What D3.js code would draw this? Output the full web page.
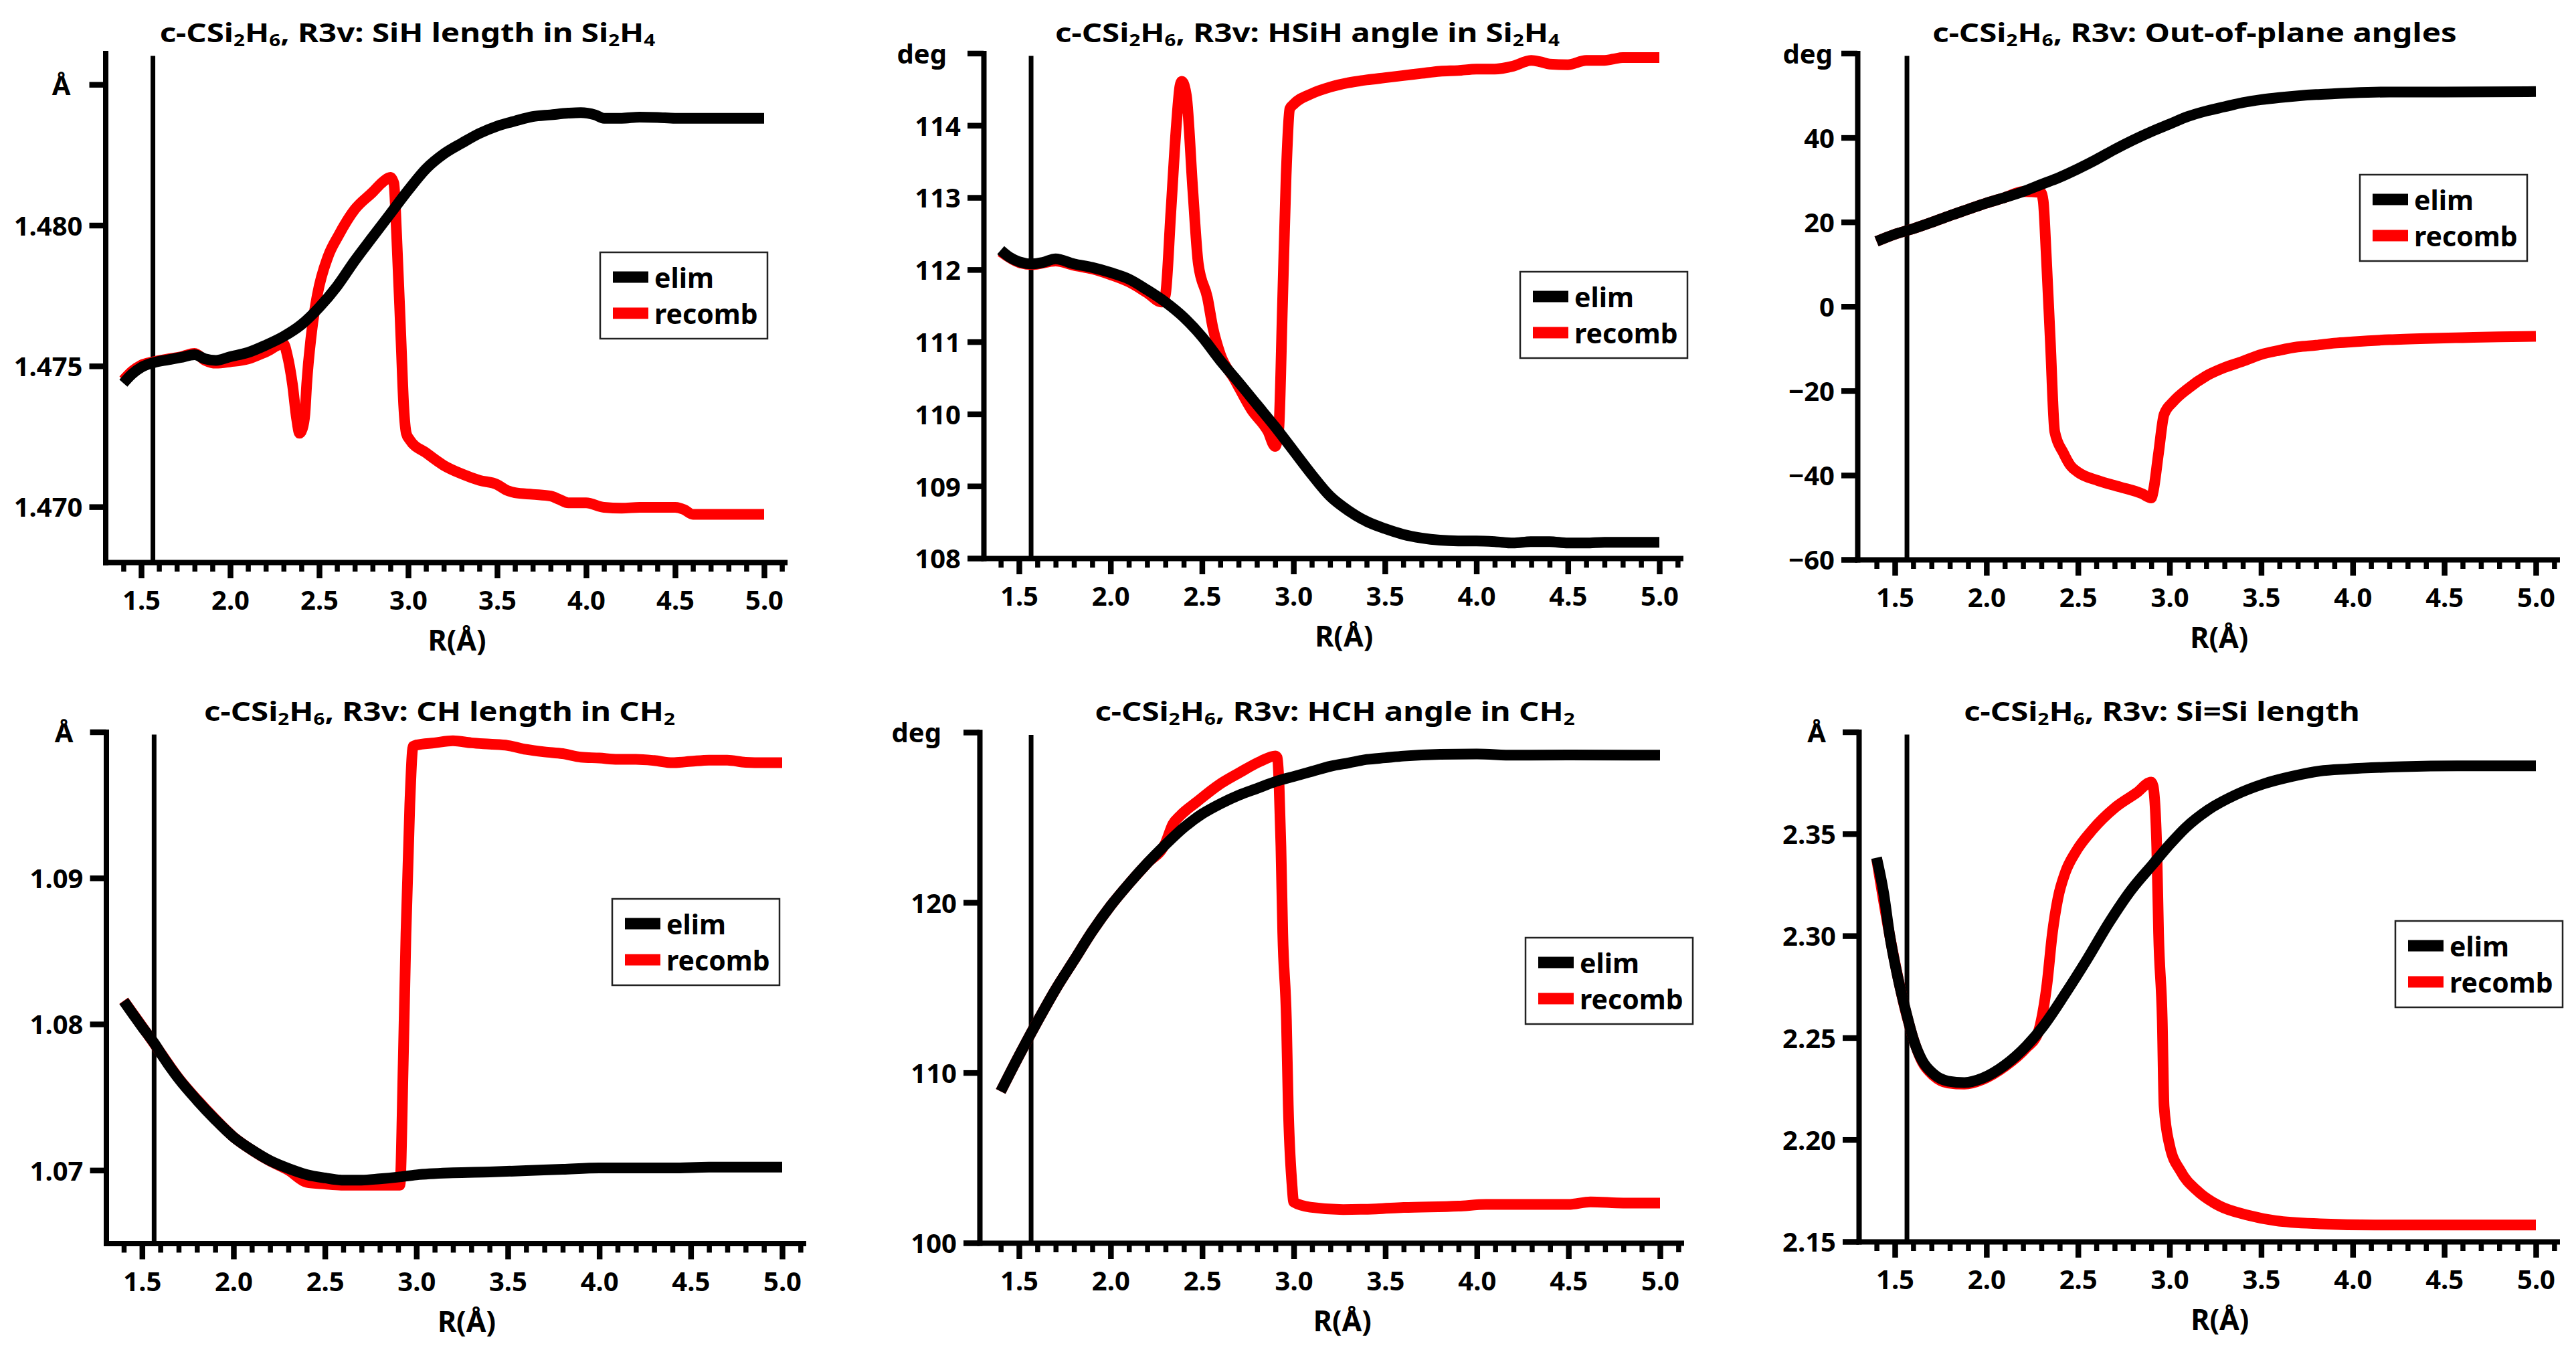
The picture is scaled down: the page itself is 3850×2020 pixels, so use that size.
<!DOCTYPE html>
<html>
<head>
<meta charset="utf-8">
<script src="https://cdn.jsdelivr.net/npm/d3@7"></script>
<style>
  html, body { margin: 0; padding: 0; background: #fff; }
  svg { display: block; font-family: 'Noto Sans', sans-serif; font-weight: 700; }
</style>
</head>
<body>
<div id="chart"></div>
<script>
// series names and shared x ticks
const seriesNames = ['elim', 'recomb'];
const xMajorTicks = [1.5, 2.0, 2.5, 3.0, 3.5, 4.0, 4.5, 5.0];
const refR = 1.566; // vertical marker
const xEnd = 5.115;  // right end of x axis

// SiH length in Si2H4
const sihElimR = [1.40,1.45,1.50,1.57,1.65,1.72,1.80,1.86,1.92,2.00,2.10,2.20,2.30,2.40,2.50,2.60,2.70,2.80,2.90,3.00,3.10,3.20,3.30,3.40,3.50,3.60,3.70,3.80,3.90,3.97,4.05,4.10,4.20,4.30,4.40,4.50,4.60,4.80,5.00];
const sihElim = [1.47439,1.47472,1.47495,1.47512,1.47522,1.47530,1.47540,1.47525,1.47520,1.47533,1.47548,1.47574,1.47605,1.47647,1.47708,1.47783,1.47874,1.47958,1.48041,1.48124,1.48200,1.48253,1.48291,1.48326,1.48352,1.48370,1.48386,1.48392,1.48398,1.48400,1.48392,1.48380,1.48380,1.48384,1.48383,1.48380,1.48380,1.48380,1.48380];
const sihRecombR = [1.40,1.45,1.50,1.57,1.65,1.72,1.80,1.86,1.92,2.00,2.10,2.20,2.30,2.32,2.35,2.373,2.39,2.405,2.42,2.43,2.46,2.49,2.55,2.61,2.70,2.80,2.86,2.90,2.92,2.935,2.96,2.975,2.99,3.01,3.10,3.20,3.30,3.40,3.50,3.55,3.60,3.70,3.80,3.85,3.90,4.00,4.10,4.20,4.30,4.40,4.50,4.55,4.60,4.80,5.00];
const sihRecomb = [1.47450,1.47482,1.47503,1.47515,1.47525,1.47532,1.47545,1.47520,1.47510,1.47515,1.47525,1.47550,1.47579,1.47541,1.47435,1.47314,1.47261,1.47276,1.47330,1.47435,1.47632,1.47753,1.47889,1.47965,1.48056,1.48117,1.48155,1.48170,1.48148,1.47970,1.47590,1.47360,1.47260,1.47237,1.47192,1.47147,1.47117,1.47094,1.47079,1.47060,1.47050,1.47044,1.47038,1.47026,1.47014,1.47014,1.46998,1.46995,1.46998,1.46998,1.46998,1.46990,1.46973,1.46973,1.46973];
const sihTicks = [1.470, 1.475, 1.480, 1.485];

// HSiH angle in Si2H4
const hsihElimR = [1.40,1.45,1.50,1.57,1.63,1.70,1.80,1.90,2.00,2.10,2.20,2.30,2.40,2.50,2.60,2.70,2.80,2.90,3.00,3.10,3.20,3.30,3.40,3.50,3.60,3.70,3.80,3.90,4.00,4.10,4.20,4.30,4.40,4.50,4.60,4.70,4.80,5.00];
const hsihElim = [112.27,112.17,112.11,112.08,112.10,112.15,112.08,112.03,111.96,111.87,111.72,111.55,111.34,111.07,110.74,110.44,110.13,109.82,109.49,109.16,108.86,108.66,108.51,108.41,108.33,108.28,108.25,108.24,108.24,108.23,108.21,108.23,108.23,108.21,108.21,108.22,108.22,108.22];
const hsihRecombR = [1.40,1.50,1.57,1.70,1.80,1.90,2.00,2.10,2.20,2.28,2.30,2.33,2.36,2.38,2.39,2.415,2.45,2.48,2.53,2.56,2.60,2.68,2.77,2.86,2.90,2.92,2.94,2.96,2.98,3.00,3.10,3.20,3.30,3.40,3.50,3.60,3.70,3.80,3.90,4.00,4.10,4.20,4.30,4.35,4.40,4.50,4.60,4.70,4.75,4.80,5.00];
const hsihRecomb = [112.25,112.10,112.07,112.12,112.06,112.01,111.93,111.83,111.68,111.55,111.65,112.80,114.00,114.55,114.61,114.41,113.10,112.08,111.61,111.19,110.83,110.47,110.06,109.76,109.55,109.80,111.50,113.30,114.23,114.29,114.44,114.53,114.59,114.63,114.66,114.69,114.72,114.75,114.76,114.78,114.78,114.82,114.90,114.88,114.85,114.84,114.90,114.90,114.92,114.94,114.94];
const hsihTicks = [108, 109, 110, 111, 112, 113, 114, 115];

// Out-of-plane angles
const oopElimR = [1.40,1.50,1.60,1.70,1.80,1.90,2.00,2.10,2.20,2.30,2.40,2.50,2.60,2.70,2.80,2.90,3.00,3.10,3.20,3.30,3.40,3.50,3.60,3.70,3.80,3.90,4.00,4.20,4.50,5.00];
const oopElim = [15.4,17.1,18.4,19.9,21.5,23.0,24.5,25.8,27.2,28.9,30.6,32.6,34.8,37.2,39.4,41.4,43.2,45.0,46.3,47.3,48.3,49.0,49.5,49.9,50.2,50.4,50.6,50.8,50.8,50.9];
const oopRecombR = [1.40,1.50,1.60,1.70,1.80,1.90,2.00,2.10,2.20,2.297,2.31,2.327,2.349,2.373,2.42,2.46,2.50,2.61,2.73,2.85,2.90,2.91,2.94,2.97,3.02,3.10,3.20,3.30,3.40,3.50,3.60,3.70,3.80,3.90,4.00,4.20,4.40,4.60,4.80,5.00];
const oopRecomb = [15.4,17.1,18.4,19.9,21.5,23.0,24.5,25.8,27.2,27.0,25.0,11.8,-8.4,-29.7,-34.7,-37.8,-39.3,-41.3,-42.8,-44.4,-45.4,-44.0,-34.7,-25.6,-22.6,-19.5,-16.5,-14.5,-13.0,-11.4,-10.4,-9.6,-9.2,-8.7,-8.4,-7.9,-7.6,-7.4,-7.2,-7.1];
const oopTicks = [-60, -40, -20, 0, 20, 40, 60];

// CH length in CH2
const chElimR = [1.40,1.50,1.57,1.60,1.70,1.80,1.90,2.00,2.10,2.20,2.30,2.40,2.50,2.60,2.70,2.80,2.90,3.00,3.20,3.40,3.60,3.80,4.00,4.20,4.40,4.60,5.00];
const chElim = [1.08158,1.07981,1.07863,1.07804,1.07626,1.07479,1.07346,1.07227,1.07139,1.07065,1.07012,1.06970,1.06947,1.06932,1.06932,1.06941,1.06953,1.06968,1.06982,1.06988,1.06997,1.07006,1.07015,1.07015,1.07015,1.07021,1.07021];
const chRecombR = [1.40,1.50,1.60,1.70,1.80,1.90,2.00,2.10,2.20,2.30,2.40,2.50,2.60,2.70,2.80,2.91,2.928,2.943,2.964,2.982,3.00,3.10,3.20,3.30,3.40,3.50,3.60,3.70,3.80,3.90,4.00,4.10,4.20,4.30,4.40,4.50,4.60,4.70,4.80,4.90,5.00];
const chRecomb = [1.08160,1.07985,1.07806,1.07630,1.07484,1.07350,1.07228,1.07138,1.07062,1.07000,1.06917,1.06905,1.06897,1.06897,1.06897,1.06897,1.07730,1.08616,1.09502,1.09901,1.09910,1.09925,1.09939,1.09925,1.09916,1.09907,1.09880,1.09863,1.09851,1.09827,1.09821,1.09812,1.09812,1.09804,1.09789,1.09798,1.09807,1.09807,1.09792,1.09789,1.09789];
const chTicks = [1.07, 1.08, 1.09, 1.10];

// HCH angle in CH2
const hchElimR = [1.40,1.50,1.60,1.70,1.80,1.90,2.00,2.10,2.20,2.30,2.40,2.50,2.60,2.70,2.80,2.90,3.00,3.10,3.20,3.30,3.40,3.50,3.60,3.80,4.00,4.20,4.50,5.00];
const hchElim = [108.9,111.0,113.0,114.9,116.6,118.3,119.8,121.1,122.3,123.4,124.4,125.2,125.8,126.3,126.7,127.1,127.4,127.7,128.0,128.2,128.4,128.5,128.6,128.7,128.72,128.65,128.66,128.65];
const hchRecombR = [1.40,1.50,1.60,1.70,1.80,1.90,2.00,2.10,2.20,2.30,2.34,2.38,2.47,2.59,2.70,2.82,2.90,2.91,2.92,2.93,2.94,2.96,2.97,2.99,3.00,3.09,3.27,3.45,3.60,3.90,4.05,4.50,4.62,4.80,5.00];
const hchRecomb = [108.9,111.0,113.0,114.9,116.6,118.3,119.8,121.1,122.3,123.5,124.6,125.1,125.9,126.9,127.6,128.3,128.6,128.5,126.9,123.3,118.2,113.1,108.1,103.5,102.4,102.1,101.96,102.0,102.08,102.16,102.26,102.26,102.41,102.34,102.34];
const hchTicks = [100, 110, 120, 130];

// Si=Si length
const sisiElimR = [1.40,1.44,1.47,1.515,1.56,1.605,1.65,1.71,1.79,1.88,1.98,2.10,2.22,2.31,2.43,2.55,2.67,2.79,2.91,3.00,3.09,3.21,3.36,3.51,3.67,3.82,3.97,4.27,4.57,5.00];
const sisiElim = [2.3383,2.3203,2.3012,2.2800,2.2630,2.2482,2.2387,2.2323,2.2287,2.2280,2.2302,2.2365,2.2461,2.2556,2.2715,2.2885,2.3065,2.3224,2.3352,2.3447,2.3532,2.3617,2.3691,2.3744,2.3782,2.3808,2.3818,2.3829,2.3833,2.3833];
const sisiRecombR = [1.40,1.47,1.56,1.65,1.71,1.79,1.88,1.98,2.10,2.22,2.28,2.30,2.33,2.36,2.39,2.43,2.49,2.58,2.70,2.82,2.90,2.91,2.93,2.94,2.96,2.97,3.00,3.06,3.15,3.27,3.43,3.58,3.82,4.12,5.00];
const sisiRecomb = [2.3380,2.3010,2.2625,2.2380,2.2315,2.2278,2.2272,2.2295,2.2358,2.2452,2.2520,2.2588,2.2758,2.3012,2.3182,2.3309,2.3415,2.3521,2.3627,2.3701,2.3754,2.3735,2.3436,2.3012,2.2588,2.2164,2.1973,2.1846,2.1750,2.1676,2.1629,2.1602,2.1587,2.1581,2.1581];
const sisiTicks = [2.15, 2.20, 2.25, 2.30, 2.35, 2.40];

const W = 3850, H = 2020;
const colors = { elim: '#000000', recomb: '#ff0000' };

// panel layout: left = y axis, [x15, x50] = pixel of R=1.5 and R=5.0, [top, bottom] of plot
const panels = [
  { title: 'c-CSi_2H_6, R3v: SiH length in Si_2H_4', tx: 609, ty: 63,
    left: 157.5, x15: 211, x50: 1142, top: 79.5, bottom: 840,
    yDomain: [1.46803, 1.48611], ticks: sihTicks, fmt: d3.format('.3f'),
    unit: 'Å', unitTick: 1.485, unitDx: 52, legend: [897, 377],
    elim: [sihElimR, sihElim], recomb: [sihRecombR, sihRecomb] },
  { title: 'c-CSi_2H_6, R3v: HSiH angle in Si_2H_4', tx: 1954, ty: 63,
    left: 1470, x15: 1523, x50: 2480, top: 79.5, bottom: 834,
    yDomain: [108, 115], ticks: hsihTicks, fmt: d3.format('d'),
    unit: 'deg', unitTick: 115, unitDx: 55, legend: [2272, 406],
    elim: [hsihElimR, hsihElim], recomb: [hsihRecombR, hsihRecomb] },
  { title: 'c-CSi_2H_6, R3v: Out-of-plane angles', tx: 3280, ty: 63,
    left: 2776, x15: 2832, x50: 3790, top: 79.5, bottom: 836,
    yDomain: [-60, 60], ticks: oopTicks, fmt: d3.format('d'),
    unit: 'deg', unitTick: 60, unitDx: 37, legend: [3527, 261],
    elim: [oopElimR, oopElim], recomb: [oopRecombR, oopRecomb] },
  { title: 'c-CSi_2H_6, R3v: CH length in CH_2', tx: 657, ty: 1077,
    left: 158.5, x15: 212.3, x50: 1169, top: 1093.5, bottom: 1857.5,
    yDomain: [1.065, 1.100], ticks: chTicks, fmt: d3.format('.2f'),
    unit: 'Å', unitTick: 1.10, unitDx: 49, legend: [915, 1343],
    elim: [chElimR, chElim], recomb: [chRecombR, chRecomb] },
  { title: 'c-CSi_2H_6, R3v: HCH angle in CH_2', tx: 1995, ty: 1077,
    left: 1464, x15: 1523, x50: 2481, top: 1094, bottom: 1857,
    yDomain: [100, 130], ticks: hchTicks, fmt: d3.format('d'),
    unit: 'deg', unitTick: 130, unitDx: 57, legend: [2280, 1401],
    elim: [hchElimR, hchElim], recomb: [hchRecombR, hchRecomb] },
  { title: 'c-CSi_2H_6, R3v: Si=Si length', tx: 3231, ty: 1077,
    left: 2778, x15: 2832, x50: 3790, top: 1093.5, bottom: 1855,
    yDomain: [2.15, 2.40], ticks: sisiTicks, fmt: d3.format('.2f'),
    unit: 'Å', unitTick: 2.40, unitDx: 49, legend: [3580, 1376],
    elim: [sisiElimR, sisiElim], recomb: [sisiRecombR, sisiRecomb] }
];

const svg = d3.select('#chart').append('svg')
  .attr('width', W)
  .attr('height', H)
  .attr('viewBox', `0 0 ${W} ${H}`);

panels.forEach(p => drawPanel(p));

function drawPanel(p) {
  // x scale calibrated on the 1.5 and 5.0 ticks, then widened to the axis extent
  const xc = d3.scaleLinear().domain([1.5, 5.0]).range([p.x15, p.x50]);
  const x = d3.scaleLinear()
    .domain([xc.invert(p.left), xEnd])
    .range([p.left, xc(xEnd)]);
  const y = d3.scaleLinear().domain(p.yDomain).range([p.bottom, p.top]);
  const g = svg.append('g');

  // vertical reference line
  g.append('line')
    .attr('x1', x(refR)).attr('x2', x(refR))
    .attr('y1', p.bottom).attr('y2', p.top + 4)
    .attr('stroke', '#000')
    .attr('stroke-width', 7);

  const line = d3.line()
    .x(d => x(d[0]))
    .y(d => y(d[1]))
    .curve(d3.curveMonotoneX);

  // recomb first so elim sits on top
  ['recomb', 'elim'].forEach(name => {
    g.append('path')
      .datum(d3.zip(p[name][0], p[name][1]))
      .attr('d', line)
      .attr('fill', 'none')
      .attr('stroke', colors[name])
      .attr('stroke-width', 16)
      .attr('stroke-linejoin', 'round');
  });

  // x axis: minor ticks every 0.1, major every 0.5
  const minor = x.ticks(40).filter(d => d > 1.35 && !xMajorTicks.some(m => Math.abs(m - d) < 1e-6));
  const xMinor = g.append('g')
    .attr('transform', `translate(0,${p.bottom})`)
    .call(d3.axisBottom(x).tickValues(minor).tickSize(14).tickFormat('').tickSizeOuter(0));
  xMinor.select('.domain').remove();
  xMinor.selectAll('.tick line').attr('stroke', '#000').attr('stroke-width', 7.5);

  const xAxis = g.append('g')
    .attr('transform', `translate(0,${p.bottom})`)
    .call(d3.axisBottom(x).tickValues(xMajorTicks).tickSize(24).tickPadding(19)
      .tickFormat(d3.format('.1f')).tickSizeOuter(0));

  const yAxis = g.append('g')
    .attr('transform', `translate(${p.left},0)`)
    .call(d3.axisLeft(y).tickValues(p.ticks).tickSize(24).tickPadding(10)
      .tickFormat(d => Math.abs(d - p.unitTick) < 1e-9 ? p.unit : p.fmt(d).replace('-', '\u2212'))
      .tickSizeOuter(0));
  yAxis.selectAll('.tick text').attr('dy', '0.37em');

  // unit label sits a bit further left
  yAxis.selectAll('.tick')
    .filter(d => Math.abs(d - p.unitTick) < 1e-9)
    .select('text')
    .attr('x', -p.unitDx);

  [xAxis, yAxis].forEach(a => {
    a.selectAll('.domain').attr('stroke', '#000').attr('stroke-width', 8).attr('stroke-linecap', 'square');
    a.selectAll('.tick line').attr('stroke', '#000').attr('stroke-width', 8.5);
    a.selectAll('text')
      .attr('fill', '#000')
      .style('font-size', '40px')
      .style('font-family', "'Noto Sans', sans-serif")
      .style('font-weight', 700);
  });

  // axis title
  g.append('text')
    .attr('x', (p.left + x(xEnd)) / 2 + 18)
    .attr('y', p.bottom + 132)
    .attr('text-anchor', 'middle')
    .style('font-size', '43px')
    .text('R(Å)');

  // chart title with subscripts, drawn a little wider than the base font
  const title = g.append('text')
    .attr('transform', `translate(${p.tx},${p.ty}) scale(1.185,1)`)
    .attr('text-anchor', 'middle')
    .style('font-size', '40px');
  let shifted = false;
  p.title.split(/(_\d)/).filter(s => s.length).forEach(part => {
    const sub = part[0] === '_';
    const t = title.append('tspan').text(sub ? part.slice(1) : part);
    if (sub) {
      t.style('font-size', '25px');
      if (!shifted) { t.attr('dy', 6); shifted = true; }
    } else if (shifted) {
      t.attr('dy', -6);
      shifted = false;
    }
  });

  // legend
  const [lx, ly] = p.legend;
  const lg = g.append('g').attr('transform', `translate(${lx},${ly})`);
  lg.append('rect')
    .attr('width', 250).attr('height', 129)
    .attr('fill', '#fff')
    .attr('stroke', '#222')
    .attr('stroke-width', 2.5);
  seriesNames.forEach((name, i) => {
    const yy = 37 + i * 54;
    lg.append('line')
      .attr('x1', 19).attr('x2', 72)
      .attr('y1', yy).attr('y2', yy)
      .attr('stroke', colors[name])
      .attr('stroke-width', 17);
    lg.append('text')
      .attr('x', 81)
      .attr('y', yy + 16)
      .style('font-size', '41px')
      .text(name);
  });
}
</script>
</body>
</html>
